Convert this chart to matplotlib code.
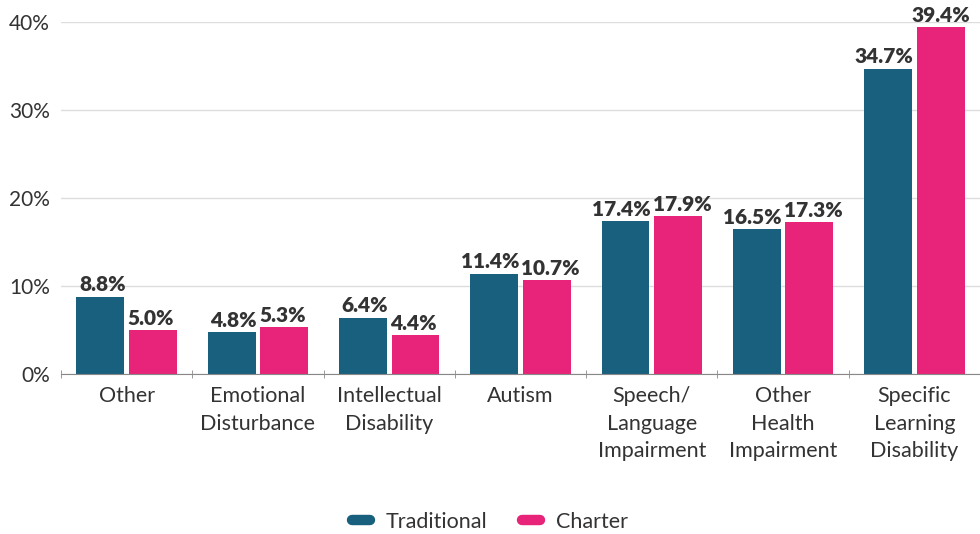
import matplotlib.pyplot as plt
import numpy as np
from matplotlib.lines import Line2D

categories = ["Other", "Emotional\nDisturbance", "Intellectual\nDisability", "Autism",
              "Speech/\nLanguage\nImpairment", "Other\nHealth\nImpairment",
              "Specific\nLearning\nDisability"]
traditional = [8.8, 4.8, 6.4, 11.4, 17.4, 16.5, 34.7]
charter = [5.0, 5.3, 4.4, 10.7, 17.9, 17.3, 39.4]
yticks = [0, 10, 20, 30, 40]

TEAL = "#19607f"
PINK = "#e8247a"
TEXT = "#333333"

plt.rcParams["font.family"] = ["Lato", "DejaVu Sans"]

fig = plt.figure(figsize=(9.8, 5.34), dpi=100)
ax = fig.add_axes([61 / 980, 160 / 534, 919 / 980, 352 / 534])

x = np.arange(len(categories))
w = 0.365
off = 0.2
b1 = ax.bar(x - off, traditional, w, color=TEAL, zorder=3)
b2 = ax.bar(x + off, charter, w, color=PINK, zorder=3)

# labels hug the inner edge of each pair so neighbours don't collide
lab = dict(va="bottom", fontsize=15, fontweight="heavy", color=TEXT, clip_on=False, zorder=4)
for rect, v in zip(b1, traditional):
    ax.text(rect.get_x() + rect.get_width() + 0.01, v + 0.25, f"{v:.1f}%", ha="right", **lab)
for i, (rect, v) in enumerate(zip(b2, charter)):
    if i == len(charter) - 1:
        ax.text(rect.get_x() + rect.get_width() / 2, v + 0.25, f"{v:.1f}%", ha="center", **lab)
    else:
        ax.text(rect.get_x() - 0.01, v + 0.25, f"{v:.1f}%", ha="left", **lab)

ax.set_xlim(-0.5, len(categories) - 0.5)
ax.set_ylim(0, 40)
ax.set_yticks(yticks)
ax.set_yticklabels([f"{t}%" for t in yticks])
ax.yaxis.grid(True, color="#dddddd", linewidth=1, zorder=0)
ax.tick_params(axis="y", length=0, pad=8, labelsize=15, labelcolor=TEXT)

ax.set_xticks(x)
ax.set_xticklabels(categories, linespacing=1.45)
ax.tick_params(axis="x", which="major", length=0, pad=9, labelsize=15.5, labelcolor=TEXT)
ax.set_xticks(np.arange(-0.5, len(categories) + 0.5, 1), minor=True)
ax.tick_params(axis="x", which="minor", length=6, color="#888888", direction="inout")

for s in ("top", "right", "left"):
    ax.spines[s].set_visible(False)
ax.spines["bottom"].set_color("#888888")
ax.spines["bottom"].set_zorder(5)

handles = [Line2D([0], [0], color=TEAL, lw=7.5, solid_capstyle="round"),
           Line2D([0], [0], color=PINK, lw=7.5, solid_capstyle="round")]
fig.legend(handles, ["Traditional", "Charter"], loc="center", bbox_to_anchor=(0.5, 12 / 534),
           ncol=2, frameon=False, fontsize=15.5, handlelength=0.85, columnspacing=1.6,
           handletextpad=0.75, labelcolor=TEXT)

fig.savefig("out.png", dpi=100)
